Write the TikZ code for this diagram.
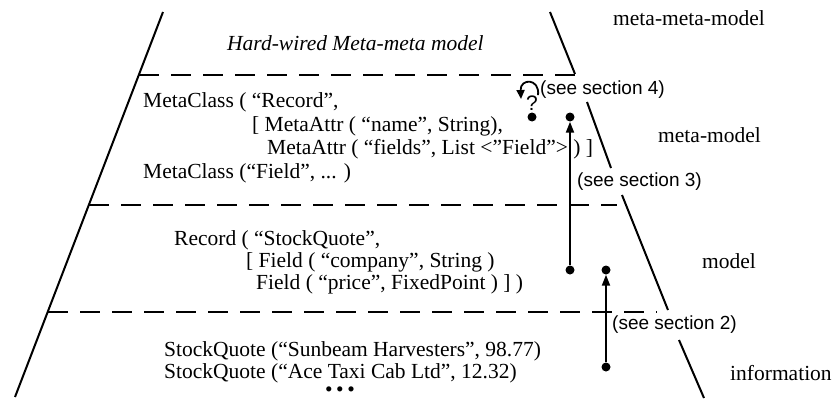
\documentclass[tikz,border=0pt]{standalone}
\usepackage{fontspec}
\setmainfont{Liberation Serif}
\setsansfont{Liberation Sans}
\usetikzlibrary{arrows.meta}
\tikzset{
  code/.style={anchor=base west, inner sep=0pt, font=\fontsize{21.5}{23}\selectfont},
  see/.style={anchor=base west, inner sep=0pt, font=\sffamily\fontsize{19}{21}\selectfont},
  dot/.style={circle, fill, inner sep=0pt, minimum size=9pt},
  side/.style={line width=2pt},
  layer/.style={line width=2.5pt, dash pattern=on 20pt off 12pt},
  link/.style={line width=2pt, -{Triangle[length=11pt,width=8pt]}}
}
\begin{document}
\begin{tikzpicture}[x=1pt,y=-1pt]
      \useasboundingbox (0,0) rectangle (835,399);
      \path
        (163,12) coordinate (lt)
        (15,397) coordinate (lb)
        (550,12) coordinate (r1)
        (575,74) coordinate (r2)
        (587,102) coordinate (r3)
        (611,168) coordinate (r4)
        (622,195) coordinate (r5)
        (668,310) coordinate (r6)
        (679,340) coordinate (r7)
        (704,398) coordinate (r8)
        (139,75) coordinate (d1l)
        (575,75) coordinate (d1r)
        (89,205) coordinate (d2l)
        (617,205) coordinate (d2r)
        (48,312) coordinate (d3l)
        (657,312) coordinate (d3r);
      \path
        (227,50) node[code, font=\itshape\fontsize{21.5}{23}\selectfont] (hw){Hard-wired Meta-meta model}
        (143,107) node[code] (mc1){MetaClass ( “Record”,}
        (252,131) node[code] (ma1){[ MetaAttr ( “name”, String),}
        (267,154) node[code] (ma2){MetaAttr ( “fields”, List <”Field”> ) ]}
        (143,178) node[code] (mc2){MetaClass (“Field”, ... )}
        (174,245) node[code] (rec){Record ( “StockQuote”,}
        (246,267) node[code] (f1){[ Field ( “company”, String )}
        (256,289) node[code] (f2){Field ( “price”, FixedPoint ) ] )}
        (164,356) node[code] (sq1){StockQuote (“Sunbeam Harvesters”, 98.77)}
        (164,378) node[code] (sq2){StockQuote (“Ace Taxi Cab Ltd”, 12.32)}
        (340,396) node[anchor=base, font=\fontsize{21.5}{23}\selectfont, inner sep=0pt,
          text height=10pt, text depth=0pt] (more){•\,•\,•}
        (613,25) node[code] (mmm){meta-meta-model}
        (658,142) node[code] (mm){meta-model}
        (702,268) node[code] (m){model}
        (730,380) node[code] (inf){information}
        (540,94) node[see] (s4){(see section 4)}
        (577,186) node[see] (s3){(see section 3)}
        (612,329) node[see] (s2){(see section 2)}
        (532,110) node[anchor=base, font=\sffamily\fontsize{21}{23}\selectfont, inner sep=0pt] (q){?}
        (521,99) coordinate (qend)
        (532,117) node[dot] (a){}
        (570,117) node[dot] (b){}
        (570,270) node[dot] (c){}
        (606,270) node[dot] (d){}
        (606,367) node[dot] (e){};
      \begin{scope}[side]
        \draw (lt) to (lb);
        \draw (r1) to (r2);
        \draw (r3) to (r4);
        \draw (r5) to (r6);
        \draw (r7) to (r8);
      \end{scope}
      \begin{scope}[layer]
        \draw (d1l) to (d1r);
        \draw (d2l) to (d2r);
        \draw (d3l) to (d3r);
      \end{scope}
      \draw[link] (c) to (b);
      \draw[link] (e) to (d);
      \draw[line width=1.8pt, -{Triangle[length=9pt,width=8pt]}]
        (q.north east) .. controls (540,78) and (520,78) .. (qend);
    \end{tikzpicture}
\end{document}
